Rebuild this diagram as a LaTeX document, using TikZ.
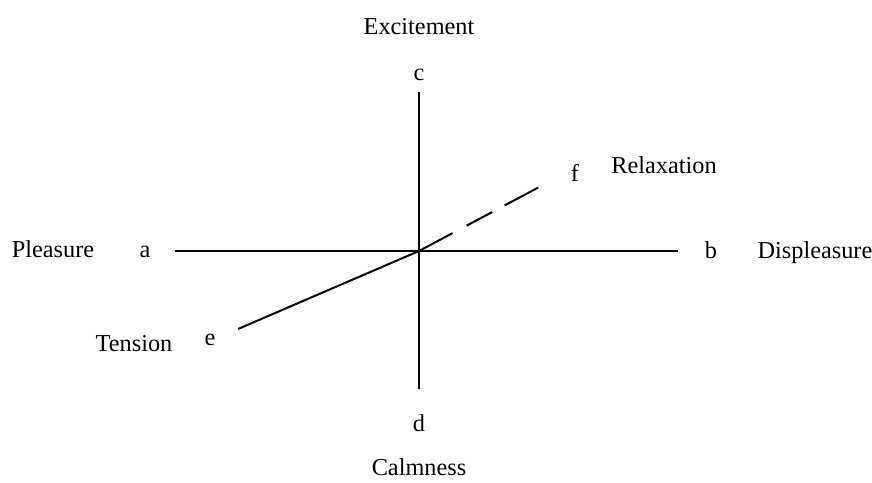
\documentclass[tikz,border=0pt]{standalone}
\usepackage{fontspec}
\setmainfont{Liberation Serif}
\begin{document}
\begin{tikzpicture}[x=1pt,y=-1pt,
  lbl/.style={anchor=base,inner sep=0pt,font=\fontsize{24.3}{28}\selectfont},
  axisline/.style={line width=2pt}]
\useasboundingbox (0,0) rectangle (872,482);
% endpoints
\coordinate (o) at (419,251);
\coordinate (pa) at (175,251);
\coordinate (pb) at (678,251);
\coordinate (pc) at (419,92);
\coordinate (pd) at (419,389);
\coordinate (pe) at (238,329);
\coordinate (pf) at (543,185);
% lines
\draw[axisline] (pa) -- (pb);
\draw[axisline] (pc) -- (pd);
\draw[axisline] (pe) -- (o);
\draw[axisline,dash pattern=on 38pt off 16pt on 29pt off 14pt] (o) -- (pf);
% labels
\node[lbl] (pleasure) at (53,257) {Pleasure};
\node[lbl] (a) at (145,257) {a};
\node[lbl] (b) at (711,258) {b};
\node[lbl] (displeasure) at (815,258) {Displeasure};
\node[lbl] (excitement) at (419,34) {Excitement};
\node[lbl] (c) at (419,80) {c};
\node[lbl] (d) at (419,431) {d};
\node[lbl] (calmness) at (419,475) {Calmness};
\node[lbl] (relaxation) at (664,173) {Relaxation};
\node[lbl] (f) at (575,181) {f};
\node[lbl] (tension) at (134,351) {Tension};
\node[lbl] (e) at (210,345) {e};
\end{tikzpicture}
\end{document}
